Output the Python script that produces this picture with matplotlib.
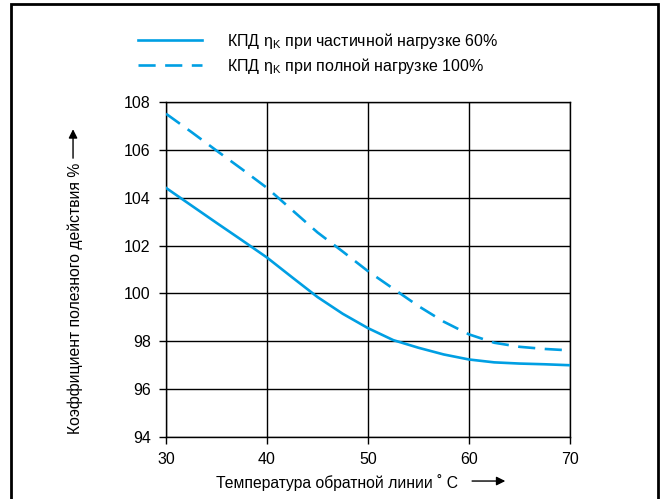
import matplotlib
matplotlib.use("Agg")
import matplotlib.pyplot as plt
from matplotlib.patches import Rectangle

plt.rcParams["font.family"] = ["Liberation Sans", "DejaVu Sans"]
plt.rcParams["mathtext.fontset"] = "custom"
plt.rcParams["mathtext.rm"] = "Liberation Sans"

# return temperature, degC
temp = [30, 32.5, 35, 37.5, 40, 42.5, 45, 47.5, 50, 52.5, 55, 57.5, 60, 62.5, 65, 67.5, 70]
# efficiency at partial load 60 %
eff_part = [104.41, 103.68, 102.95, 102.23, 101.5, 100.67, 99.85, 99.15, 98.55,
            98.05, 97.73, 97.45, 97.24, 97.12, 97.07, 97.04, 97.0]
# efficiency at full load 100 %
eff_full = [107.51, 106.75, 105.97, 105.2, 104.41, 103.48, 102.55, 101.75, 100.93,
            100.2, 99.47, 98.82, 98.29, 97.94, 97.77, 97.68, 97.62]

xticks = [30, 40, 50, 60, 70]
yticks = [94, 96, 98, 100, 102, 104, 106, 108]

BLUE = "#009fe3"

fig = plt.figure(figsize=(6.64, 4.99), dpi=100)
ax = fig.add_axes([0.25, 0.1242, 0.6084, 0.6714])

l1, = ax.plot(temp, eff_part, color=BLUE, lw=1.9, zorder=3,
              label="КПД η$_\\mathrm{K}$ при частичной нагрузке 60%")
l2, = ax.plot(temp, eff_full, color=BLUE, lw=1.9, dashes=(6.5, 3.6), zorder=3,
              label="КПД η$_\\mathrm{K}$ при полной нагрузке 100%")

ax.set_xlim(30, 70)
ax.set_ylim(94, 108)
ax.set_xticks(xticks)
ax.set_yticks(yticks)
ax.grid(True, color="black", lw=1.0)
ax.tick_params(direction="out", length=5, width=1, labelsize=11.5, pad=6)
for sp in ax.spines.values():
    sp.set_linewidth(1.0)

fig.legend(handles=[l1, l2], loc="upper left", bbox_to_anchor=(138 / 664, 0.938),
           frameon=False, fontsize=11.5, handlelength=4.0, handletextpad=1.55,
           labelspacing=0.3, borderpad=0, borderaxespad=0)

fig.text(0.508, 0.034, "Температура обратной линии ˚ C", ha="center", va="center",
         fontsize=11.3)
ax.annotate("", xy=(0.761, 0.036), xytext=(0.711, 0.036), xycoords="figure fraction",
            arrowprops=dict(arrowstyle="-|>", color="black", lw=1.0,
                            mutation_scale=13, shrinkA=0, shrinkB=0))

fig.text(0.113, 0.403, "Коэффициент полезного действия %", rotation=90,
         ha="center", va="center", fontsize=11.3)
ax.annotate("", xy=(0.110, 0.741), xytext=(0.110, 0.683), xycoords="figure fraction",
            arrowprops=dict(arrowstyle="-|>", color="black", lw=1.0,
                            mutation_scale=13, shrinkA=0, shrinkB=0))

fig.add_artist(Rectangle((11 / 664, -0.05), 647 / 664, 1.042, transform=fig.transFigure,
                         fill=False, edgecolor="black", lw=2.0))

fig.savefig("out.png", dpi=100)
